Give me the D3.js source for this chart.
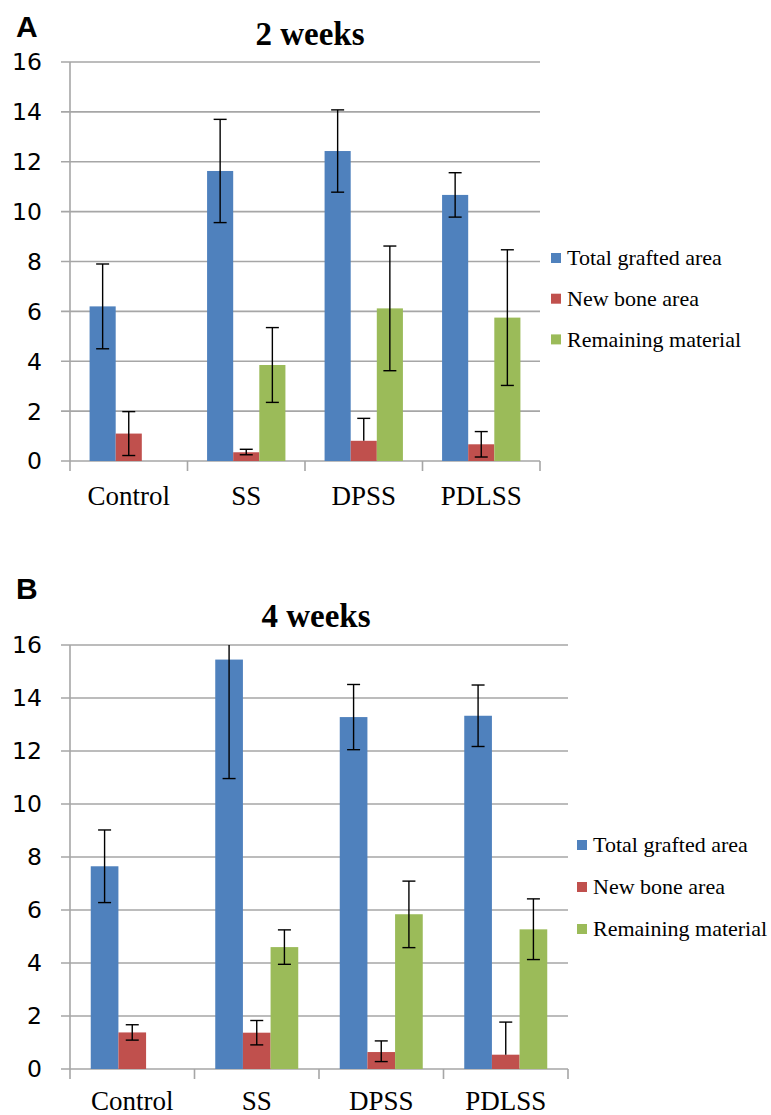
<!DOCTYPE html>
<html>
<head>
<meta charset="utf-8">
<script src="https://cdn.jsdelivr.net/npm/d3@7"></script>
<style>
  html, body { margin: 0; padding: 0; background: #fff; }
  svg { display: block; }
</style>
</head>
<body>
<svg id="chart" width="771" height="1115"></svg>
<script>
// ---------- data ----------
const categories = ["Control", "SS", "DPSS", "PDLSS"];
const seriesNames = ["Total grafted area", "New bone area", "Remaining material"];
const seriesColors = ["#4F81BD", "#C0504D", "#9BBB59"];
const yTicks = [0, 2, 4, 6, 8, 10, 12, 14, 16];

// Panel A: 2 weeks
const total2 = [6.2, 11.63, 12.43, 10.67];
const total2ErrUp = [1.7, 2.07, 1.65, 0.89];
const total2ErrDown = [1.7, 2.07, 1.65, 0.89];
const newBone2 = [1.1, 0.35, 0.81, 0.67];
const newBone2ErrUp = [0.88, 0.12, 0.9, 0.51];
const newBone2ErrDown = [0.88, 0.1, 0, 0.51];
const remaining2 = [null, 3.85, 6.12, 5.75];
const remaining2ErrUp = [null, 1.5, 2.5, 2.72];
const remaining2ErrDown = [null, 1.5, 2.5, 2.72];

// Panel B: 4 weeks
const total4 = [7.65, 15.45, 13.28, 13.33];
const total4ErrUp = [1.37, 4.49, 1.23, 1.16];
const total4ErrDown = [1.37, 4.49, 1.23, 1.16];
const newBone4 = [1.38, 1.37, 0.64, 0.54];
const newBone4ErrUp = [0.29, 0.46, 0.42, 1.23];
const newBone4ErrDown = [0.29, 0.46, 0.36, 0];
const remaining4 = [null, 4.6, 5.84, 5.27];
const remaining4ErrUp = [null, 0.65, 1.25, 1.15];
const remaining4ErrDown = [null, 0.65, 1.26, 1.14];

// ---------- drawing ----------
const svg = d3.select("#chart");
const gridColor = "#a6a6a6";

function drawPanel(p) {
  const g = svg.append("g");
  const x0 = d3.scaleBand().domain(categories).range([p.left, p.right]).paddingInner(0).paddingOuter(0);
  // bar width = band/4.5 with 0.75 bar widths of gap at each side (Excel gap width 150%)
  const bw = x0.bandwidth() / 4.5;
  const barX = (ci, si) => x0(categories[ci]) + 0.75 * bw + si * bw;
  const y = d3.scaleLinear().domain([0, 16]).range([p.bottom, p.top]);

  // panel letter
  g.append("text").attr("x", 16).attr("y", p.letterY)
    .attr("font-family", "Liberation Sans, Arial, sans-serif").attr("font-weight", "bold")
    .attr("font-size", 30).attr("fill", "#000").text(p.letter);

  // title
  g.append("text").attr("x", p.titleX).attr("y", p.titleY).attr("text-anchor", "middle")
    .attr("font-family", "Liberation Serif, Times New Roman, serif").attr("font-weight", "bold")
    .attr("font-size", 33).attr("fill", "#000").text(p.title);

  // gridlines
  g.append("g").selectAll("line").data(yTicks).join("line")
    .attr("x1", p.left - 9).attr("x2", p.right)
    .attr("y1", d => y(d)).attr("y2", d => y(d))
    .attr("stroke", gridColor).attr("stroke-width", 1.6);

  // y axis line
  g.append("line").attr("x1", p.left).attr("x2", p.left)
    .attr("y1", y(16)).attr("y2", y(0) + 10)
    .attr("stroke", gridColor).attr("stroke-width", 1.6);

  // category ticks
  const bounds = categories.map(c => x0(c)).concat([p.right]).slice(1);
  g.append("g").selectAll("line").data(bounds).join("line")
    .attr("x1", d => d).attr("x2", d => d)
    .attr("y1", y(0)).attr("y2", y(0) + 10)
    .attr("stroke", gridColor).attr("stroke-width", 1.6);

  // y tick labels
  g.append("g").selectAll("text").data(yTicks).join("text")
    .attr("x", 42).attr("y", d => y(d)).attr("dy", "0.36em")
    .attr("text-anchor", "end")
    .attr("font-family", "DejaVu Sans, sans-serif").attr("font-size", 23.5)
    .attr("fill", "#000").text(d => d);

  // x labels
  g.append("g").selectAll("text").data(categories).join("text")
    .attr("x", d => x0(d) + x0.bandwidth() / 2).attr("y", p.xLabelY)
    .attr("text-anchor", "middle")
    .attr("font-family", "Liberation Serif, Times New Roman, serif").attr("font-size", 27)
    .attr("fill", "#000").text(d => d);

  // bars
  const yMin = y(16);
  p.series.forEach((s, si) => {
    const data = s.values.map((v, ci) => ({ v, ci })).filter(d => d.v !== null);
    g.append("g").selectAll("rect").data(data).join("rect")
      .attr("x", d => barX(d.ci, si)).attr("width", bw)
      .attr("y", d => y(d.v)).attr("height", d => y(0) - y(d.v))
      .attr("fill", seriesColors[si]);
  });

  // error bars
  const cap = 6.5;
  p.series.forEach((s, si) => {
    const data = s.values.map((v, ci) => ({ v, ci, up: s.up[ci], down: s.down[ci] })).filter(d => d.v !== null);
    const eg = g.append("g").attr("stroke", "#000").attr("stroke-width", 1.4);
    data.forEach(d => {
      const cx = barX(d.ci, si) + bw / 2;
      const topV = d.v + d.up, botV = d.v - d.down;
      const yt = Math.max(y(topV), yMin);
      const yb = y(botV);
      eg.append("line").attr("x1", cx).attr("x2", cx).attr("y1", yt).attr("y2", yb);
      if (y(topV) >= yMin) {
        eg.append("line").attr("x1", cx - cap).attr("x2", cx + cap).attr("y1", yt).attr("y2", yt);
      }
      if (d.down > 0) {
        eg.append("line").attr("x1", cx - cap).attr("x2", cx + cap).attr("y1", yb).attr("y2", yb);
      }
    });
  });

  // legend
  const lg = g.append("g");
  seriesNames.forEach((name, i) => {
    const ly = p.legendY + i * p.legendStep;
    lg.append("rect").attr("x", p.legendX).attr("y", ly - 5).attr("width", 10).attr("height", 10)
      .attr("fill", seriesColors[i]);
    lg.append("text").attr("x", p.legendX + 16).attr("y", ly).attr("dy", "0.33em")
      .attr("font-family", "Liberation Serif, Times New Roman, serif").attr("font-size", 22)
      .attr("fill", "#000").text(name);
  });
}

drawPanel({
  letter: "A", letterY: 37, title: "2 weeks", titleX: 310, titleY: 45,
  left: 70, right: 540, top: 62, bottom: 461, xLabelY: 505,
  legendX: 551, legendY: 258, legendStep: 40.7,
  series: [
    { values: total2, up: total2ErrUp, down: total2ErrDown },
    { values: newBone2, up: newBone2ErrUp, down: newBone2ErrDown },
    { values: remaining2, up: remaining2ErrUp, down: remaining2ErrDown }
  ]
});

drawPanel({
  letter: "B", letterY: 599, title: "4 weeks", titleX: 316, titleY: 627,
  left: 70, right: 568, top: 645, bottom: 1069, xLabelY: 1110,
  legendX: 577, legendY: 845, legendStep: 42,
  series: [
    { values: total4, up: total4ErrUp, down: total4ErrDown },
    { values: newBone4, up: newBone4ErrUp, down: newBone4ErrDown },
    { values: remaining4, up: remaining4ErrUp, down: remaining4ErrDown }
  ]
});
</script>
</body>
</html>
